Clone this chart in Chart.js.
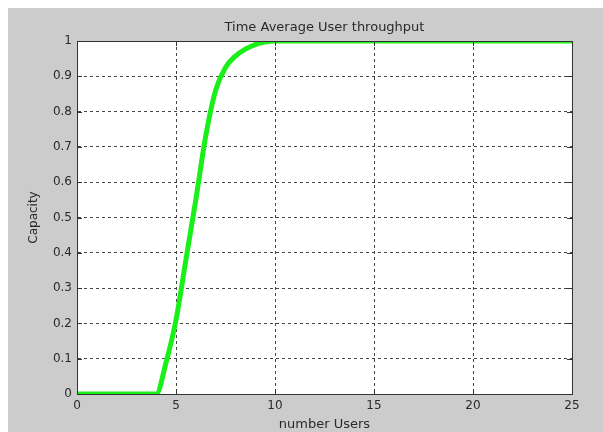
<!DOCTYPE html>
<html>
<head>
<meta charset="utf-8">
<script src="https://cdn.jsdelivr.net/npm/chart.js@4.4.1/dist/chart.umd.min.js"></script>
<style>
  body { margin: 0; background: #fff; }
  #wrap { position: relative; width: 603px; height: 432px; }
  #bg { position: absolute; left: 8px; top: 8px; width: 595px; height: 424px; background: #cccccc; }
  #chart { position: absolute; left: 0; top: 0; }
</style>
</head>
<body>
<div id="wrap">
  <div id="bg"></div>
  <canvas id="chart" width="603" height="432"></canvas>
</div>
<script>
// Curve
const numberUsers = [0, 4, 4.5, 5, 5.5, 6, 6.5, 7, 7.5, 8, 8.5, 9, 9.5, 10, 15, 20, 25];
const capacity = [0, 0, 0.09, 0.21, 0.38, 0.55, 0.73, 0.86, 0.925, 0.957, 0.977, 0.99, 0.997, 1, 1, 1, 1];

const xTicks = [0, 5, 10, 15, 20, 25];
const yTicks = [0, 0.1, 0.2, 0.3, 0.4, 0.5, 0.6, 0.7, 0.8, 0.9, 1];

const axisColor = '#333';
const textColor = '#2a2a2a';
Chart.defaults.font.family = "'DejaVu Sans', sans-serif";

// white plot box, full frame and inward tick marks (matlab style)
const frame = {
    id: 'frame',
    beforeDraw(chart) {
        const { ctx, chartArea: a } = chart;
        ctx.save();
        ctx.fillStyle = '#fff';
        ctx.fillRect(a.left, a.top, a.right - a.left, a.bottom - a.top);
        ctx.restore();
    },
    afterDraw(chart) {
        const { ctx, chartArea: a, scales } = chart;
        ctx.save();
        ctx.strokeStyle = axisColor;
        ctx.lineWidth = 1;
        ctx.beginPath();
        xTicks.forEach(v => {
            const px = Math.round(scales.x.getPixelForValue(v)) + 0.5;
            ctx.moveTo(px, a.bottom); ctx.lineTo(px, a.bottom - 5);
            ctx.moveTo(px, a.top); ctx.lineTo(px, a.top + 5);
        });
        yTicks.forEach(v => {
            const py = Math.round(scales.y.getPixelForValue(v)) + 0.5;
            ctx.moveTo(a.left, py); ctx.lineTo(a.left + 5, py);
            ctx.moveTo(a.right, py); ctx.lineTo(a.right - 5, py);
        });
        ctx.stroke();
        ctx.strokeRect(Math.round(a.left) + 0.5, Math.round(a.top) + 0.5,
            Math.round(a.right - a.left), Math.round(a.bottom - a.top));
        ctx.restore();
    }
};

new Chart(document.getElementById('chart'), {
    type: 'line',
    data: {
        datasets: [{
            data: numberUsers.map((u, i) => ({ x: u, y: capacity[i] })),
            borderColor: '#1aef1a',
            borderWidth: 5,
            pointRadius: 0,
            cubicInterpolationMode: 'monotone',
            clip: 0,
            fill: false
        }]
    },
    options: {
        responsive: false,
        animation: false,
        events: [],
        layout: { padding: { top: 0, right: 31, left: 0, bottom: 0 } },
        plugins: {
            legend: { display: false },
            tooltip: { enabled: false },
            title: {
                display: true,
                text: 'Time Average User throughput',
                fullSize: false,
                color: textColor,
                font: { size: 13, weight: 'normal' },
                padding: { top: 20, bottom: 5.4 }
            }
        },
        scales: {
            x: {
                type: 'linear',
                min: 0, max: 25,
                afterBuildTicks: s => { s.ticks = xTicks.map(v => ({ value: v })); },
                afterFit: s => { s.height = 38; },
                ticks: { color: textColor, font: { size: 12 }, padding: 5, maxRotation: 0 },
                grid: { color: '#444', lineWidth: 1, drawTicks: false },
                border: { color: axisColor, dash: [3, 3] },
                title: { display: true, text: 'number Users', color: textColor, font: { size: 13 }, padding: { top: 0, bottom: 0 } }
            },
            y: {
                min: 0, max: 1,
                afterBuildTicks: s => { s.ticks = yTicks.map(v => ({ value: v })); },
                afterFit: s => { s.width = 77; },
                ticks: { color: textColor, font: { size: 12 }, padding: 5, callback: v => String(+v.toFixed(1)) },
                grid: { color: '#444', lineWidth: 1, drawTicks: false },
                border: { color: axisColor, dash: [3, 3] },
                title: { display: true, text: 'Capacity', color: textColor, font: { size: 12 }, padding: { top: 27, bottom: 0 } }
            }
        }
    },
    plugins: [frame]
});
</script>
</body>
</html>
